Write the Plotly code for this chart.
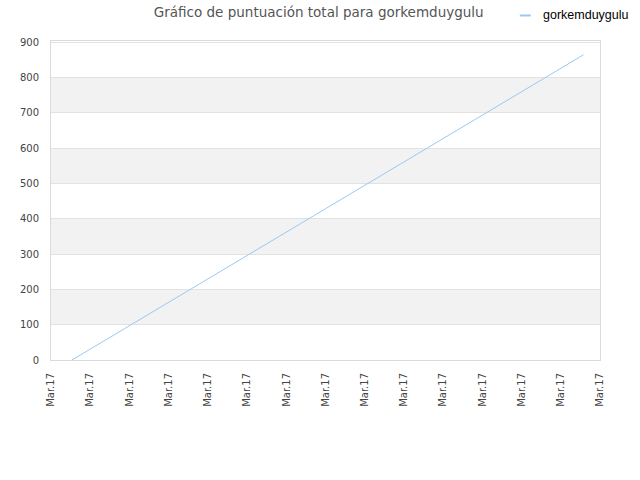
import plotly.graph_objects as go

# datos
dias = [0.535, 13.58]
puntos = [0, 864]
etiquetas_x = ["Mar.17"] * 15
posiciones_x = list(range(15))
bandas = [(100, 200), (300, 400), (500, 600), (700, 800)]
nombre = "gorkemduygulu"
color_linea = "#99c9f7"

fig = go.Figure()

fig.add_trace(go.Scatter(
    x=dias, y=puntos, mode="lines", name=nombre,
    line=dict(color=color_linea, width=1), showlegend=False,
))

for y0, y1 in bandas:
    fig.add_shape(type="rect", xref="paper", yref="y", x0=0, x1=1, y0=y0, y1=y1,
                  fillcolor="#f2f2f2", line_width=0, layer="below")

# leyenda dibujada a mano (muestra corta como en el original)
fig.add_shape(type="line", xref="paper", yref="paper", x0=0.854, x1=0.874,
              y0=1.08, y1=1.08, line=dict(color=color_linea, width=2))
fig.add_annotation(text=nombre, xref="paper", yref="paper", x=0.8925, y=1.083,
                   xanchor="left", yanchor="middle", showarrow=False,
                   font=dict(family="Liberation Sans", size=12.5, color="black"))

fig.update_layout(
    title=dict(text="Gráfico de puntuación total para gorkemduygulu", x=0.498, y=0.974,
               xref="container", yref="container", xanchor="center", yanchor="middle",
               font=dict(size=13.5, color="#555")),
    font=dict(family="DejaVu Sans", size=10, color="#444"),
    width=640, height=480,
    margin=dict(l=51, r=40, t=41, b=120, autoexpand=False),
    plot_bgcolor="white", paper_bgcolor="white",
)

fig.update_xaxes(range=[0, 14], tickvals=posiciones_x, ticktext=etiquetas_x, tickangle=-90,
                 showgrid=False, zeroline=False, showline=True, linecolor="#dadada",
                 mirror=True, automargin=False, ticklabelstandoff=8,
                 tickfont=dict(size=10, color="#444"))
fig.update_yaxes(range=[0, 903], dtick=100, showgrid=True, gridcolor="#e2e2e2",
                 zeroline=False, showline=True, linecolor="#dadada", mirror=True,
                 automargin=False, ticklabelstandoff=9,
                 tickfont=dict(size=10, color="#444"))

fig.write_html("out.html", config={"displayModeBar": False},
               post_script="document.body.style.margin='0';")
